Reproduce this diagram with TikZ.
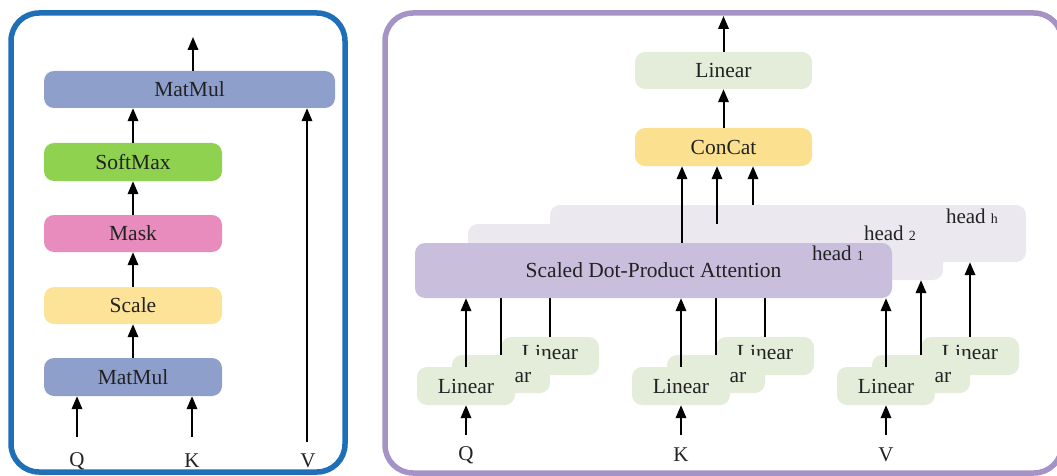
\documentclass[tikz,border=0pt]{standalone}
\usepackage{fontspec}
\setmainfont{Liberation Serif}
\usetikzlibrary{arrows.meta}
\definecolor{frameblue}{HTML}{1F6FB8}
\definecolor{framepurple}{HTML}{A593C6}
\definecolor{matmulc}{HTML}{8E9FCC}
\definecolor{softmaxc}{HTML}{8ED24F}
\definecolor{maskc}{HTML}{E88BBD}
\definecolor{scalec}{HTML}{FDE397}
\definecolor{linearc}{HTML}{E3EDDA}
\definecolor{concatc}{HTML}{FBE08F}
\definecolor{sdpac}{HTML}{C9BEDC}
\definecolor{headc}{HTML}{EBE8F0}
\definecolor{txt}{HTML}{222222}
\tikzset{
  box/.style={rounded corners=10pt, inner sep=0pt, text=txt, font=\fontsize{21.5}{23}\selectfont},
  linbox/.style={box, fill=linearc, minimum width=98pt, minimum height=38pt},
  arr/.style={line width=2pt, -{Triangle[length=13pt,width=10.5pt]}},
  lbl/.style={text=txt, font=\fontsize{21}{23}\selectfont, inner sep=0pt},
  ltxt/.style={text=txt, font=\fontsize{21.5}{23}\selectfont, inner sep=0pt},
  hlbl/.style={text=txt, font=\fontsize{21}{23}\selectfont, inner sep=0pt},
  frame/.style={line width=5.5pt, rounded corners=28pt}
}
\newcommand{\hsub}[1]{{\fontsize{14}{14}\selectfont #1}}
\begin{document}
\begin{tikzpicture}[x=1pt,y=-1pt]
\useasboundingbox (0,0) rectangle (1057,476);
\begin{scope}
\clip (0,0) rectangle (1057,476);
% frames
\draw[frame, frameblue] (11,13) rectangle (345,472);
\draw[frame, framepurple] (385,13) rectangle (1062,473);
\end{scope}

% ---------- left panel ----------
\node[box, fill=matmulc, minimum width=291pt, minimum height=37pt] (mm2) at (189.5,89.5) {MatMul};
\node[box, fill=softmaxc, minimum width=178pt, minimum height=38pt] (sm) at (133,162) {SoftMax};
\node[box, fill=maskc, minimum width=178pt, minimum height=37pt] (mask) at (133,233.5) {Mask};
\node[box, fill=scalec, minimum width=178pt, minimum height=37pt] (scale) at (133,305.5) {Scale};
\node[box, fill=matmulc, minimum width=178pt, minimum height=38pt] (mm1) at (133,377) {MatMul};
\coordinate (out1) at (193,37);
\node[lbl] (q1) at (77,461) {Q};
\node[lbl] (k1) at (192,461) {K};
\node[lbl] (v1) at (308,461) {V};
\coordinate (q1s) at (77,437);
\coordinate (k1s) at (192,437);
\coordinate (v1s) at (307,442);
\draw[arr] (mm1) -- (scale);
\draw[arr] (scale) -- (mask);
\draw[arr] (mask) -- (sm);
\draw[arr] (sm.north) -- (sm.north |- mm2.south);
\draw[arr] (out1 |- mm2.north) -- (out1);
\draw[arr] (q1s) -- (q1s |- mm1.south);
\draw[arr] (k1s) -- (k1s |- mm1.south);
\draw[arr] (v1s) -- (v1s |- mm2.south);

% ---------- right panel ----------
\node[box, fill=linearc, minimum width=177pt, minimum height=37pt] (lin) at (723.5,70.5) {Linear};
\node[box, fill=concatc, minimum width=177pt, minimum height=38pt] (cc) at (723.5,147) {ConCat};
\coordinate (out2) at (723.5,16);
\draw[arr] (cc) -- (lin);
\draw[arr] (lin.north) -- (out2);

% linear boxes: back, mid, front for Q, K, V
\foreach \n/\fx in {q/466, k/681, v/886}{
  \node[linbox] (\n back) at (\fx+84,356) {};
  \node[ltxt] (\n backt) at (\fx+84,352.5) {Linear};
  \node[linbox] (\n mid) at (\fx+35,374) {};
  \node[ltxt] (\n midt) at (\fx+57,378) {ar};
  \node[linbox] (\n front) at (\fx,386) {Linear};
  \coordinate (\n in) at (\fx,435);
  \draw[arr] (\n in) -- (\n front.south);
}
\node[lbl] (qlab) at (466,455) {Q};
\node[lbl] (klab) at (681,455) {K};
\node[lbl] (vlab) at (886,455) {V};

% head h
\node[box, fill=headc, minimum width=476pt, minimum height=57pt] (headh) at (788,233.5) {};
\node[hlbl] (hh) at (972,216) {head \hsub{h}};
\draw[arr] (headh.north -| 753,0) -- (753,0 |- cc.south);
\foreach \n in {q,k,v}{
  \draw[arr] (\n back.north) -- (\n back.north |- headh.south);
}
% head 2
\node[box, fill=headc, minimum width=475pt, minimum height=56pt] (head2) at (705.5,252) {};
\node[hlbl] (h2) at (890,233) {head \hsub{2}};
\draw[arr] (head2.north -| 717,0) -- (717,0 |- cc.south);
\foreach \n in {q,k,v}{
  \draw[arr] (\n mid.north) -- (\n mid.north |- head2.south);
}
% head 1
\node[box, fill=sdpac, minimum width=477pt, minimum height=55pt] (sdpa) at (653.5,270.5) {Scaled Dot-Product Attention};
\node[hlbl] (h1) at (838,253) {head \hsub{1}};
\draw[arr] (sdpa.north -| 682,0) -- (682,0 |- cc.south);
\foreach \n in {q,k,v}{
  \draw[arr] (\n front.north) -- (\n front.north |- sdpa.south);
}
\end{tikzpicture}
\end{document}
